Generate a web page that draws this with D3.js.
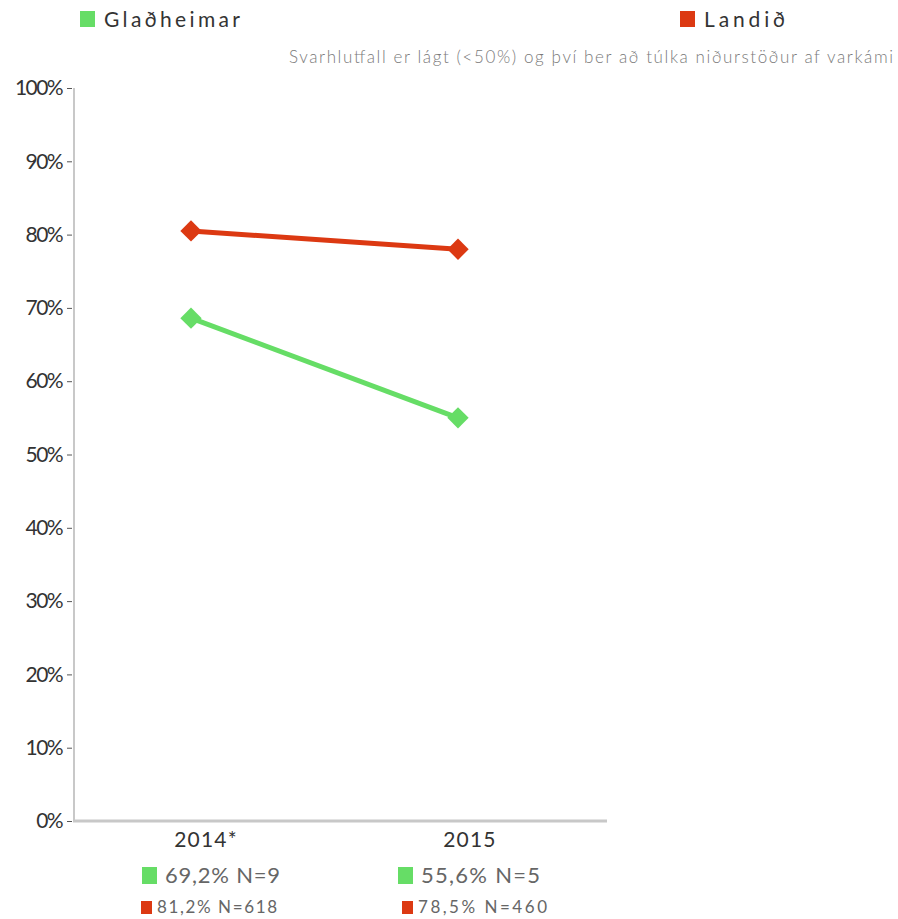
<!DOCTYPE html>
<html><head><meta charset="utf-8">
<script src="https://cdn.jsdelivr.net/npm/d3@7"></script>
<style>body{margin:0;background:#fff;} svg{display:block;font-family:Lato, "Open Sans", sans-serif;font-weight:400;}</style>
</head><body>
<script>
const categories = ["2014*", "2015"];
const seriesNames = ["Glaðheimar", "Landið"];
const gladheimar = [0.686, 0.550];
const landid = [0.805, 0.780];
const yTicks = [0, 0.1, 0.2, 0.3, 0.4, 0.5, 0.6, 0.7, 0.8, 0.9, 1.0];
const gladLabels = ["69,2% N=9", "55,6% N=5"];
const landLabels = ["81,2% N=618", "78,5% N=460"];
const note = "Svarhlutfall er lágt (<50%) og því ber að túlka niðurstöður af varkámi";
const colors = ["#66dd66", "#dc3912"];

const W = 898, H = 919;
const svg = d3.select("body").append("svg").attr("width", W).attr("height", H);

const y = d3.scaleLinear().domain([0, 1]).range([821, 88]);
const xBand = d3.scaleBand().domain(categories).range([74, 602]);
const xPt = d3.scalePoint().domain(categories).range([191, 458]);

// axes
const yAxis = d3.axisLeft(y).tickValues(yTicks).tickFormat(d3.format(".0%")).tickSize(6).tickPadding(6);
const gy = svg.append("g").attr("transform", "translate(74,0)").call(yAxis);
gy.select(".domain").remove();
gy.selectAll(".tick line").attr("stroke", "#555").attr("x1", -7).attr("x2", -2);
gy.selectAll(".tick text").attr("fill", "#333").attr("font-size", 21).attr("letter-spacing", -1.6)
  .attr("font-family", "Lato, sans-serif");
svg.append("line").attr("x1", 74).attr("x2", 74).attr("y1", y(1)).attr("y2", y(0))
  .attr("stroke", "#c8c8c8").attr("stroke-width", 2);
svg.append("line").attr("x1", 73).attr("x2", 607).attr("y1", y(0)).attr("y2", y(0))
  .attr("stroke", "#c8c8c8").attr("stroke-width", 3);

// x labels
svg.selectAll(".xl").data(categories).enter().append("text")
  .attr("x", d => xBand(d) + xBand.bandwidth() / 2).attr("y", 847)
  .attr("text-anchor", "middle").attr("font-size", 21).attr("fill", "#333").attr("letter-spacing", 1.2)
  .text(d => d);

// lines
const series = [gladheimar, landid];
const line = d3.line().x((d, i) => xPt(categories[i])).y(d => y(d));
series.forEach((s, k) => {
  svg.append("path").attr("d", line(s)).attr("fill", "none").attr("stroke", colors[k]).attr("stroke-width", 5);
  svg.selectAll(".m" + k).data(s).enter().append("path")
    .attr("d", d3.symbol().type(d3.symbolDiamond2).size(290))
    .attr("transform", (d, i) => `translate(${xPt(categories[i])},${y(d)})`)
    .attr("fill", colors[k]);
});

// legend
const legendX = [80, 680];
const legendW = [136, 81];
seriesNames.forEach((n, k) => {
  svg.append("rect").attr("x", legendX[k]).attr("y", 11).attr("width", 15).attr("height", 16).attr("fill", colors[k]);
  svg.append("text").attr("x", legendX[k] + 24).attr("y", 27).attr("font-size", 21).attr("fill", "#333")
    .attr("textLength", legendW[k]).attr("lengthAdjust", "spacing").text(n);
});

// note
svg.append("text").attr("x", 289).attr("y", 63).attr("font-size", 17).attr("font-weight", 300)
  .attr("fill", "#7a7a7a").attr("textLength", 604).attr("lengthAdjust", "spacing").text(note);

// bottom labels
const colStart = [142, 398];
const gW = [115, 119], lW = [120, 129];
categories.forEach((c, i) => {
  const x0 = colStart[i];
  svg.append("rect").attr("x", x0).attr("y", 867).attr("width", 15).attr("height", 17).attr("fill", colors[0]);
  svg.append("text").attr("x", x0 + 23).attr("y", 883).attr("font-size", 22).attr("fill", "#666")
    .attr("textLength", gW[i]).attr("lengthAdjust", "spacing").text(gladLabels[i]);
  svg.append("rect").attr("x", x0 + (i === 0 ? -1 : 4)).attr("y", 901).attr("width", 11).attr("height", 13).attr("fill", colors[1]);
  svg.append("text").attr("x", x0 + (i === 0 ? 15 : 20)).attr("y", 913).attr("font-size", 17).attr("fill", "#666")
    .attr("textLength", lW[i]).attr("lengthAdjust", "spacing").text(landLabels[i]);
});
</script>
</body></html>
